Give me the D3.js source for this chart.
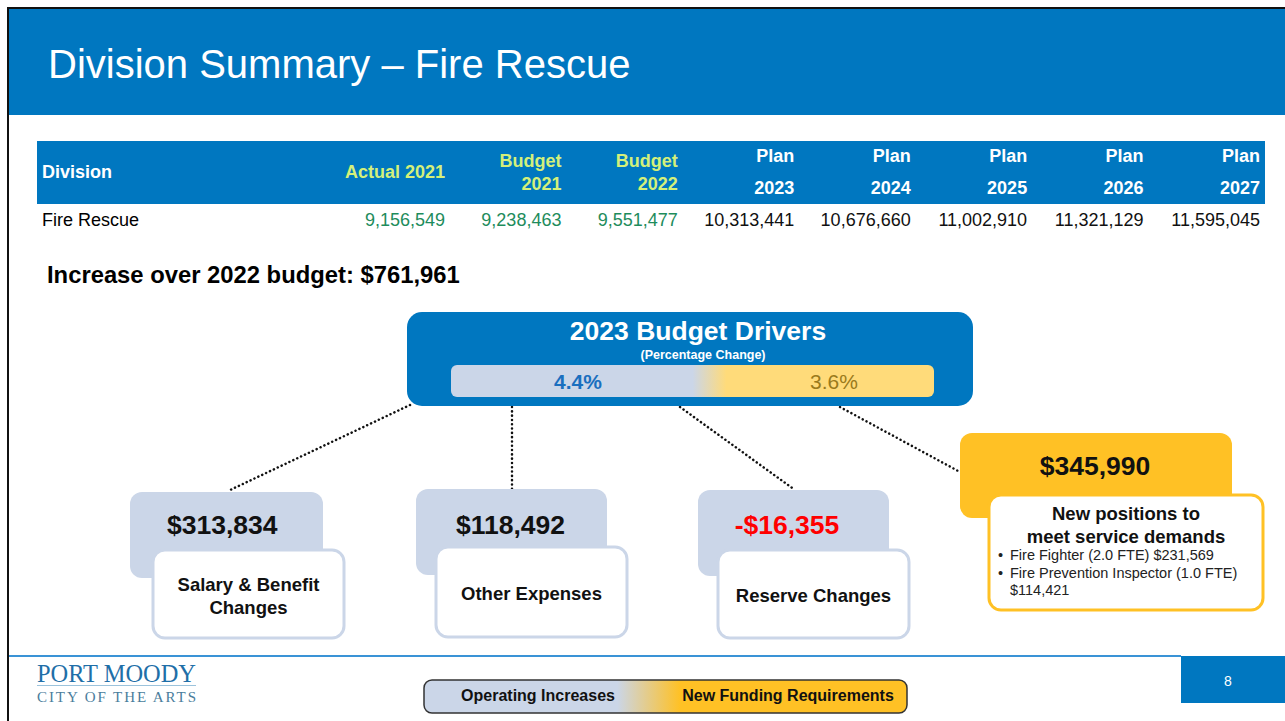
<!DOCTYPE html>
<html>
<head>
<meta charset="utf-8">
<script src="https://cdn.jsdelivr.net/npm/d3@7"></script>
<style>
  body { margin: 0; background: #fff; }
  svg { display: block; font-family: "Liberation Sans", Arial, sans-serif; }
</style>
</head>
<body>
<div id="slide"></div>
<script>
// Division summary slide: Fire Rescue budget table + 2023 drivers

const columns = ["Actual 2021", "Budget 2021", "Budget 2022", "Plan 2023", "Plan 2024", "Plan 2025", "Plan 2026", "Plan 2027"];
const fireRescue = [9156549, 9238463, 9551477, 10313441, 10676660, 11002910, 11321129, 11595045];
const increase = 761961;

const driverPct = [4.4, 3.6];
const driverAmounts = [313834, 118492, -16355, 345990];
const driverLabels = [["Salary & Benefit", "Changes"], ["Other Expenses"], ["Reserve Changes"], ["New positions to", "meet service demands"]];
const newPositions = [["Fire Fighter (2.0 FTE) $231,569"], ["Fire Prevention Inspector (1.0 FTE)", "$114,421"]];
const legendItems = ["Operating Increases", "New Funding Requirements"];

const W = 1285, H = 721;
const blue = "#0077c0", lightBlue = "#cbd6e8", gold = "#ffc125";
const fmt = d3.format(",");

const svg = d3.select("#slide").append("svg")
    .attr("width", W)
    .attr("height", H);

const defs = svg.append("defs");
const g1 = defs.append("linearGradient").attr("id", "pctGrad");
g1.append("stop").attr("offset", "50%").attr("stop-color", lightBlue);
g1.append("stop").attr("offset", "57%").attr("stop-color", "#ffdb7a");
const g2 = defs.append("linearGradient").attr("id", "legGrad");
g2.append("stop").attr("offset", "40%").attr("stop-color", lightBlue);
g2.append("stop").attr("offset", "53%").attr("stop-color", gold);

// frame + header
svg.append("rect").attr("x", 7).attr("y", 7).attr("width", W - 7).attr("height", 2).attr("fill", "#111");
svg.append("rect").attr("x", 7).attr("y", 7).attr("width", 2).attr("height", H - 7).attr("fill", "#111");
svg.append("rect").attr("x", 9).attr("y", 9).attr("width", W - 9).attr("height", 106).attr("fill", blue);
svg.append("text").attr("x", 48).attr("y", 78)
    .attr("fill", "#fff").style("font-size", "40px")
    .text("Division Summary \u2013 Fire Rescue");

// table
const x = d3.scalePoint().domain(columns).range([445, 1260]);
svg.append("rect").attr("x", 37).attr("y", 141).attr("width", 1228).attr("height", 63).attr("fill", blue);
svg.append("text").attr("x", 42).attr("y", 178).attr("fill", "#fff")
    .style("font-size", "18px").style("font-weight", "bold").text("Division");

columns.forEach((c, i) => {
    const parts = c.split(" ");
    const t = svg.append("text").attr("text-anchor", "end")
        .style("font-size", "18px").style("font-weight", "bold")
        .attr("fill", parts[0] === "Plan" ? "#fff" : "#d4f07a");
    if (c === "Actual 2021") {
        t.attr("x", x(c)).attr("y", 178).text(c);
    } else if (parts[0] === "Budget") {
        t.append("tspan").attr("x", x(c)).attr("y", 167).text(parts[0]);
        t.append("tspan").attr("x", x(c)).attr("y", 190).text(parts[1]);
    } else {
        t.append("tspan").attr("x", x(c)).attr("y", 162).text(parts[0]);
        t.append("tspan").attr("x", x(c)).attr("y", 194).text(parts[1]);
    }
});

svg.append("text").attr("x", 42).attr("y", 226).style("font-size", "18px").text("Fire Rescue");
svg.selectAll("text.val").data(fireRescue).enter().append("text")
    .attr("class", "val")
    .attr("x", (d, i) => x(columns[i]))
    .attr("y", 226)
    .attr("text-anchor", "end")
    .attr("fill", (d, i) => i < 3 ? "#1e8c5c" : "#111")
    .style("font-size", "18px")
    .text(d => fmt(d));

svg.append("text").attr("x", 47).attr("y", 283)
    .style("font-size", "23.8px").style("font-weight", "bold")
    .text("Increase over 2022 budget: $" + fmt(increase));

// connectors (drawn first so boxes overlap)
const links = [[410, 405, 228, 491], [512, 407, 512, 490], [680, 407, 795, 490], [840, 407, 960, 472]];
svg.selectAll("line.link").data(links).enter().append("line")
    .attr("x1", d => d[0]).attr("y1", d => d[1]).attr("x2", d => d[2]).attr("y2", d => d[3])
    .attr("stroke", "#111").attr("stroke-width", 2.5)
    .attr("stroke-dasharray", "0.1 4.2").attr("stroke-linecap", "round");

// drivers box
svg.append("rect").attr("x", 407).attr("y", 312).attr("width", 566).attr("height", 94).attr("rx", 15).attr("fill", blue);
svg.append("text").attr("x", 698).attr("y", 340).attr("text-anchor", "middle").attr("fill", "#fff")
    .style("font-size", "26.5px").style("font-weight", "bold").text("2023 Budget Drivers");
svg.append("text").attr("x", 703).attr("y", 359).attr("text-anchor", "middle").attr("fill", "#fff")
    .style("font-size", "12.5px").style("font-weight", "bold").text("(Percentage Change)");
svg.append("rect").attr("x", 451).attr("y", 365).attr("width", 483).attr("height", 32).attr("rx", 6).attr("fill", "url(#pctGrad)");
const pctX = d3.scalePoint().domain([0, 1]).range([578, 834]);
svg.selectAll("text.pct").data(driverPct).enter().append("text")
    .attr("x", (d, i) => pctX(i)).attr("y", 389).attr("text-anchor", "middle")
    .attr("fill", (d, i) => i === 0 ? "#1a6fbf" : "#9a7a1c")
    .style("font-size", "21px").style("font-weight", (d, i) => i === 0 ? "bold" : "normal")
    .text(d => d + "%");

// cards
const cards = [
    { bx: 130, by: 492, bw: 193, bh: 86, fx: 153, fy: 550, fw: 191, fh: 88, vx: 167, anchor: "start", vy: 534, col: lightBlue },
    { bx: 416, by: 489, bw: 191, bh: 86, fx: 436, fy: 547, fw: 191, fh: 90, vx: 456, anchor: "start", vy: 534, col: lightBlue },
    { bx: 698, by: 490, bw: 191, bh: 86, fx: 718, fy: 550, fw: 191, fh: 88, vx: 787, anchor: "middle", vy: 534, col: lightBlue },
    { bx: 960, by: 433, bw: 272, bh: 85, fx: 989, fy: 495, fw: 274, fh: 115, vx: 1095, anchor: "middle", vy: 475, col: gold }
];

cards.forEach((c, i) => {
    svg.append("rect").attr("x", c.bx).attr("y", c.by).attr("width", c.bw).attr("height", c.bh)
        .attr("rx", 12).attr("fill", c.col);
    svg.append("text").attr("x", c.vx).attr("y", c.vy).attr("text-anchor", c.anchor)
        .attr("fill", driverAmounts[i] < 0 ? "#ff0000" : "#111")
        .style("font-size", "26.5px").style("font-weight", "bold")
        .text((driverAmounts[i] < 0 ? "-$" : "$") + fmt(Math.abs(driverAmounts[i])));
    svg.append("rect").attr("x", c.fx).attr("y", c.fy).attr("width", c.fw).attr("height", c.fh)
        .attr("rx", 12).attr("fill", "#fff").attr("stroke", c.col).attr("stroke-width", 3);
    const lines = driverLabels[i];
    const cx = c.fx + c.fw / 2;
    let y0;
    if (i === 3) y0 = 520;
    else y0 = c.fy + c.fh / 2 + 8 - (lines.length - 1) * 11.5;
    const t = svg.append("text").attr("text-anchor", "middle").attr("fill", "#111")
        .style("font-size", "18.5px").style("font-weight", "bold");
    lines.forEach((l, k) => t.append("tspan").attr("x", cx).attr("y", y0 + k * 23).text(l));
});

// bullets in new positions card
let by = 560;
newPositions.forEach(item => {
    svg.append("text").attr("x", 998).attr("y", by).style("font-size", "14.5px").attr("fill", "#222").text("\u2022");
    item.forEach((l, k) => {
        svg.append("text").attr("x", 1010).attr("y", by).style("font-size", "14.5px").attr("fill", "#222").text(l);
        by += 17.5;
    });
});

// footer
svg.append("rect").attr("x", 9).attr("y", 655).attr("width", 1172).attr("height", 2).attr("fill", "#3a93d6");
svg.append("rect").attr("x", 1181).attr("y", 656).attr("width", W - 1181).attr("height", 47).attr("fill", blue);
svg.append("text").attr("x", 1228).attr("y", 686).attr("text-anchor", "middle").attr("fill", "#fff")
    .style("font-size", "14px").text("8");

svg.append("text").attr("x", 37).attr("y", 682).attr("fill", "#1f6fa8")
    .style("font-family", "'Liberation Serif', serif").style("font-size", "25px")
    .attr("textLength", 159).attr("lengthAdjust", "spacingAndGlyphs").text("PORT MOODY");
svg.append("rect").attr("x", 37).attr("y", 685).attr("width", 159).attr("height", 1).attr("fill", "#9cc3dc");
svg.append("text").attr("x", 37).attr("y", 702).attr("fill", "#4a7d9c")
    .style("font-family", "'Liberation Serif', serif").style("font-size", "15px")
    .attr("textLength", 159).text("CITY OF THE ARTS");

// legend
svg.append("rect").attr("x", 424).attr("y", 680).attr("width", 483).attr("height", 33).attr("rx", 8)
    .attr("fill", "url(#legGrad)").attr("stroke", "#333").attr("stroke-width", 1.5);
const legX = d3.scalePoint().domain(legendItems).range([538, 788]);
svg.selectAll("text.leg").data(legendItems).enter().append("text")
    .attr("x", d => legX(d)).attr("y", 701).attr("text-anchor", "middle")
    .attr("fill", "#111").style("font-size", "16px").style("font-weight", "bold")
    .text(d => d);
</script>
</body>
</html>
